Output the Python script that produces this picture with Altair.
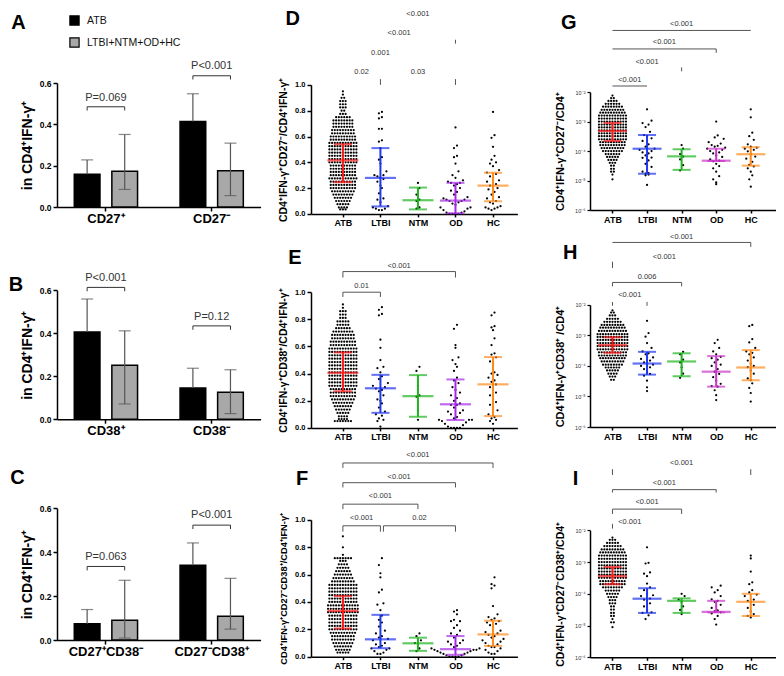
import altair as alt
import pandas as pd
import numpy as np

FONT = "Liberation Sans, Arial, sans-serif"
GROUPS = ["ATB", "LTBI", "NTM", "OD", "HC"]
SERIES = ["ATB", "LTBI+NTM+OD+HC"]

# ---------------- column 1: bar charts (mean, error whisker) ----------------
A_cats = ["CD27⁺", "CD27⁻"]
A_mean = [0.159, 0.173, 0.414, 0.175]
A_lo = [0.159, 0.085, 0.414, 0.055]
A_hi = [0.228, 0.351, 0.548, 0.309]
A_p = ["P=0.069", "P<0.001"]

B_cats = ["CD38⁺", "CD38⁻"]
B_mean = [0.406, 0.251, 0.145, 0.125]
B_lo = [0.406, 0.071, 0.145, 0.026]
B_hi = [0.559, 0.411, 0.237, 0.230]
B_p = ["P<0.001", "P=0.12"]

C_cats = ["CD27⁺CD38⁻", "CD27⁻CD38⁺"]
C_mean = [0.074, 0.090, 0.340, 0.109]
C_lo = [0.074, 0.009, 0.340, 0.050]
C_hi = [0.139, 0.272, 0.442, 0.281]
C_p = ["P=0.063", "P<0.001"]

# bracket / label heights (data units) for column 1
A_brk = [0.485, 0.635]; A_txt = [0.527, 0.680]
B_brk = [0.613, 0.434]; B_txt = [0.656, 0.476]
C_brk = [0.335, 0.523]; C_txt = [0.380, 0.567]

# ---------------- column 2: linear dot plots ----------------
D_ATB_levels = [0.95, 0.925, 0.90, 0.875, 0.85, 0.825, 0.80, 0.775, 0.75, 0.725, 0.70, 0.675, 0.65,
                0.625, 0.60, 0.575, 0.55, 0.525, 0.50, 0.475, 0.45, 0.425, 0.40, 0.375, 0.35, 0.325,
                0.30, 0.275, 0.25, 0.225, 0.20, 0.175, 0.15, 0.125, 0.10, 0.075, 0.05, 0.035]
D_ATB_counts = [1, 1, 2, 3, 3, 3, 2, 3, 6, 8, 8, 8, 9, 9, 10, 10, 11, 11, 11, 11, 11, 11, 11, 10, 10,
                10, 10, 11, 10, 10, 10, 9, 8, 7, 6, 5, 4, 3]
D_LTBI = [0.79, 0.78, 0.75, 0.74, 0.66, 0.66, 0.57, 0.56, 0.51, 0.44, 0.42, 0.39, 0.33, 0.30, 0.30,
          0.29, 0.28, 0.27, 0.25, 0.22, 0.20, 0.16, 0.12, 0.11, 0.09, 0.06, 0.05, 0.04, 0.04, 0.03, 0.03]
D_NTM = [0.24, 0.20, 0.15, 0.11, 0.10, 0.05, 0.04]
D_OD = [0.67, 0.53, 0.51, 0.45, 0.44, 0.39, 0.33, 0.30, 0.28, 0.26, 0.25, 0.24, 0.24, 0.23, 0.22, 0.20,
        0.18, 0.17, 0.15, 0.13, 0.12, 0.11, 0.11, 0.10, 0.10, 0.09, 0.08, 0.07, 0.05, 0.05, 0.04, 0.03,
        0.02, 0.01, 0.01, 0.0, 0.0, 0.0, 0.0]
D_HC = [0.79, 0.61, 0.59, 0.52, 0.45, 0.42, 0.40, 0.39, 0.37, 0.34, 0.32, 0.31, 0.29, 0.28, 0.26, 0.25,
        0.23, 0.22, 0.21, 0.20, 0.19, 0.17, 0.15, 0.13, 0.12, 0.10, 0.09, 0.08, 0.06, 0.05, 0.05, 0.04,
        0.04, 0.03]
D_med = [0.415, 0.279, 0.106, 0.103, 0.219]
D_q1 = [0.246, 0.058, 0.035, 0.005, 0.098]
D_q3 = [0.540, 0.510, 0.204, 0.241, 0.319]

E_ATB_levels = [0.91, 0.885, 0.86, 0.835, 0.81, 0.785, 0.76, 0.735, 0.71, 0.685, 0.66, 0.635, 0.61,
                0.585, 0.56, 0.535, 0.51, 0.485, 0.46, 0.435, 0.41, 0.385, 0.36, 0.335, 0.31, 0.285,
                0.26, 0.235, 0.21, 0.185, 0.16, 0.135, 0.11, 0.085, 0.065, 0.05]
E_ATB_counts = [1, 1, 3, 3, 3, 5, 5, 6, 8, 9, 9, 10, 10, 11, 11, 11, 11, 11, 11, 11, 11, 11, 11, 11,
                11, 10, 10, 10, 9, 8, 7, 6, 5, 4, 4, 7]
E_LTBI = [0.89, 0.87, 0.84, 0.83, 0.65, 0.59, 0.50, 0.45, 0.44, 0.41, 0.38, 0.36, 0.33, 0.31, 0.30,
          0.29, 0.28, 0.27, 0.24, 0.21, 0.20, 0.18, 0.15, 0.12, 0.10, 0.09, 0.07, 0.06, 0.05, 0.01]
E_NTM = [0.45, 0.42, 0.31, 0.24, 0.23, 0.13, 0.06]
E_OD = [0.76, 0.73, 0.61, 0.59, 0.52, 0.50, 0.47, 0.45, 0.42, 0.37, 0.35, 0.33, 0.30, 0.28, 0.26, 0.24,
        0.22, 0.20, 0.18, 0.17, 0.17, 0.15, 0.13, 0.12, 0.11, 0.10, 0.08, 0.07, 0.06, 0.06, 0.06, 0.05,
        0.04, 0.03, 0.02, 0.01, 0.0, 0.0, 0.0, 0.0]
E_HC = [0.85, 0.83, 0.75, 0.74, 0.72, 0.66, 0.61, 0.55, 0.54, 0.52, 0.49, 0.47, 0.41, 0.40, 0.39, 0.37,
        0.35, 0.34, 0.32, 0.30, 0.28, 0.26, 0.24, 0.21, 0.19, 0.17, 0.15, 0.13, 0.10, 0.08, 0.07, 0.06,
        0.05, 0.03]
E_med = [0.406, 0.292, 0.234, 0.174, 0.321]
E_q1 = [0.270, 0.111, 0.082, 0.058, 0.087]
E_q3 = [0.556, 0.391, 0.389, 0.357, 0.522]

F_ATB_levels = [0.88, 0.80, 0.745, 0.72, 0.70, 0.675, 0.65, 0.625, 0.60, 0.575, 0.55, 0.525, 0.50,
                0.475, 0.45, 0.425, 0.40, 0.375, 0.35, 0.325, 0.30, 0.275, 0.25, 0.225, 0.20, 0.175,
                0.15, 0.125, 0.10, 0.075, 0.05, 0.03]
F_ATB_counts = [1, 1, 1, 7, 3, 4, 5, 6, 7, 8, 9, 11, 11, 11, 11, 11, 11, 12, 12, 12, 11, 11, 11, 11,
                11, 10, 9, 9, 8, 7, 6, 5]
F_LTBI = [0.72, 0.67, 0.61, 0.58, 0.49, 0.47, 0.39, 0.38, 0.34, 0.30, 0.27, 0.25, 0.22, 0.19, 0.17,
          0.15, 0.14, 0.13, 0.12, 0.10, 0.09, 0.08, 0.07, 0.06, 0.06, 0.05, 0.04, 0.03, 0.02, 0.02]
F_NTM = [0.17, 0.15, 0.12, 0.10, 0.09, 0.06, 0.04]
F_OD = [0.34, 0.33, 0.31, 0.27, 0.26, 0.26, 0.23, 0.21, 0.19, 0.17, 0.16, 0.14, 0.12, 0.11, 0.10, 0.09,
        0.08, 0.07, 0.06, 0.06, 0.05, 0.05, 0.05, 0.04, 0.04, 0.03, 0.03, 0.02, 0.02, 0.01, 0.01, 0.0,
        0.0, 0.0, 0.0]
F_HC = [0.58, 0.53, 0.52, 0.50, 0.37, 0.31, 0.29, 0.28, 0.27, 0.26, 0.25, 0.24, 0.23, 0.21, 0.19, 0.18,
        0.17, 0.16, 0.15, 0.14, 0.13, 0.12, 0.11, 0.10, 0.09, 0.08, 0.07, 0.07, 0.06, 0.05, 0.04, 0.03,
        0.02, 0.02]
F_med = [0.335, 0.127, 0.098, 0.055, 0.163]
F_q1 = [0.206, 0.062, 0.043, 0.014, 0.079]
F_q3 = [0.443, 0.306, 0.139, 0.151, 0.263]

# ---------------- column 3: log dot plots ----------------
G_ATB_levels = [7.6e-3, 6.3e-3, 5.0e-3, 4.0e-3, 3.2e-3, 2.5e-3, 2.0e-3, 1.6e-3, 1.26e-3, 1.0e-3,
                7.9e-4, 6.3e-4, 5.0e-4, 4.0e-4, 3.2e-4, 2.5e-4, 2.0e-4, 1.6e-4, 1.26e-4, 1.0e-4,
                7.9e-5, 6.3e-5, 5.0e-5, 4.0e-5, 3.2e-5, 2.5e-5, 2.0e-5, 1.6e-5, 1.1e-5]
G_ATB_counts = [1, 2, 4, 6, 8, 9, 10, 11, 11, 11, 11, 11, 11, 11, 11, 11, 10, 10, 9, 8, 6, 5, 4, 3,
                2, 2, 2, 1, 1]
G_LTBI = [2.6e-3, 1.07e-3, 8.9e-4, 7.9e-4, 6.5e-4, 4.5e-4, 3.5e-4, 3.2e-4, 2.7e-4, 2.2e-4, 1.7e-4,
          1.4e-4, 1.2e-4, 1.1e-4, 1.0e-4, 9.0e-5, 8.3e-5, 7.1e-5, 6.0e-5, 5.9e-5, 4.8e-5, 3.7e-5,
          2.9e-5, 2.0e-5, 1.8e-5, 1.7e-5, 1.6e-5, 1.5e-5, 7.1e-6]
G_NTM = [1.6e-4, 1.2e-4, 7.9e-5, 6.5e-5, 5.2e-5, 3.3e-5, 2.2e-5]
G_OD = [1.0e-3, 3.4e-4, 2.9e-4, 2.6e-4, 2.0e-4, 1.8e-4, 1.6e-4, 1.5e-4, 1.4e-4, 1.3e-4, 1.2e-4,
        1.1e-4, 1.0e-4, 9.0e-5, 8.3e-5, 7.1e-5, 6.3e-5, 5.2e-5, 4.7e-5, 4.5e-5, 3.7e-5, 3.1e-5,
        2.6e-5, 2.0e-5, 1.4e-5, 1.1e-5, 8.6e-6, 7.5e-6]
G_HC = [2.6e-3, 1.4e-3, 4.2e-4, 3.2e-4, 2.4e-4, 1.7e-4, 1.4e-4, 1.3e-4, 1.2e-4, 1.1e-4, 9.8e-5,
        7.9e-5, 6.5e-5, 5.5e-5, 4.3e-5, 3.4e-5, 3.0e-5, 2.6e-5, 2.0e-5, 1.5e-5, 1.1e-5, 6.2e-6]
G_med = [4.8e-4, 1.2e-4, 6.6e-5, 4.7e-5, 7.8e-5]
G_q1 = [2.2e-4, 1.7e-5, 2.3e-5, 4.6e-5, 3.2e-5]
G_q3 = [9.0e-4, 3.5e-4, 1.15e-4, 1.2e-4, 1.35e-4]

H_ATB_levels = [6.6e-3, 5.6e-3, 4.5e-3, 3.5e-3, 2.8e-3, 2.2e-3, 1.8e-3, 1.4e-3, 1.1e-3, 8.9e-4,
                7.1e-4, 5.6e-4, 4.5e-4, 3.5e-4, 2.8e-4, 2.2e-4, 1.8e-4, 1.4e-4, 1.1e-4, 8.9e-5,
                7.1e-5, 5.6e-5, 4.5e-5, 3.5e-5]
H_ATB_counts = [1, 2, 3, 5, 7, 9, 10, 11, 12, 12, 12, 12, 12, 12, 11, 11, 10, 9, 8, 6, 5, 4, 3, 2]
H_LTBI = [3.0e-3, 1.2e-3, 9.1e-4, 5.6e-4, 3.9e-4, 3.0e-4, 2.6e-4, 2.4e-4, 1.9e-4, 1.7e-4, 1.5e-4,
          1.3e-4, 1.2e-4, 1.1e-4, 1.0e-4, 9.0e-5, 7.9e-5, 6.2e-5, 5.5e-5, 4.8e-5, 3.3e-5, 2.0e-5,
          1.5e-5]
H_NTM = [2.9e-4, 2.4e-4, 1.6e-4, 1.3e-4, 9.0e-5, 5.6e-5, 4.1e-5]
H_OD = [7.2e-4, 5.6e-4, 3.9e-4, 3.0e-4, 2.4e-4, 2.0e-4, 1.8e-4, 1.6e-4, 1.3e-4, 1.1e-4, 1.0e-4,
        7.9e-5, 6.5e-5, 5.5e-5, 4.3e-5, 3.3e-5, 2.6e-5, 2.2e-5, 2.1e-5, 1.6e-5, 1.1e-5, 7.6e-6]
H_HC = [2.2e-3, 2.0e-3, 7.6e-4, 5.9e-4, 3.9e-4, 3.0e-4, 2.7e-4, 2.4e-4, 1.9e-4, 1.5e-4, 1.2e-4,
        1.0e-4, 9.1e-5, 7.1e-5, 5.6e-5, 3.9e-5, 3.4e-5, 2.7e-5, 1.9e-5, 1.3e-5, 6.8e-6]
H_med = [4.8e-4, 1.2e-4, 1.4e-4, 6.5e-5, 8.9e-5]
H_q1 = [2.7e-4, 5.2e-5, 4.6e-5, 2.1e-5, 3.4e-5]
H_q3 = [8.7e-4, 2.9e-4, 2.6e-4, 2.1e-4, 3.3e-4]

I_ATB_levels = [5.9e-3, 5.0e-3, 4.0e-3, 3.2e-3, 2.5e-3, 2.0e-3, 1.6e-3, 1.26e-3, 1.0e-3, 7.9e-4,
                6.3e-4, 5.0e-4, 4.0e-4, 3.2e-4, 2.5e-4, 2.0e-4, 1.6e-4, 1.26e-4, 1.0e-4, 7.9e-5,
                6.3e-5, 5.0e-5, 4.0e-5, 3.2e-5, 2.5e-5, 2.0e-5, 1.6e-5, 1.26e-5, 8.9e-6]
I_ATB_counts = [1, 3, 5, 7, 9, 10, 11, 11, 11, 11, 11, 11, 11, 11, 10, 10, 8, 6, 5, 4, 3, 3, 2, 2,
                2, 2, 1, 2, 1]
I_LTBI = [2.9e-3, 9.5e-4, 9.0e-4, 4.7e-4, 4.3e-4, 3.6e-4, 2.1e-4, 1.6e-4, 1.3e-4, 1.0e-4, 9.0e-5,
          8.5e-5, 7.1e-5, 6.5e-5, 6.0e-5, 5.0e-5, 4.0e-5, 3.1e-5, 2.6e-5, 2.5e-5, 2.1e-5, 1.6e-5]
I_NTM = [1.0e-4, 8.5e-5, 6.6e-5, 5.6e-5, 4.0e-5, 3.1e-5, 2.3e-5]
I_OD = [1.8e-4, 1.6e-4, 1.3e-4, 1.1e-4, 8.5e-5, 6.7e-5, 6.0e-5, 5.6e-5, 4.5e-5, 3.6e-5, 3.0e-5,
        2.8e-5, 2.6e-5, 2.4e-5, 2.0e-5, 1.6e-5, 1.07e-5]
I_HC = [1.6e-3, 1.3e-3, 5.0e-4, 2.3e-4, 2.0e-4, 1.3e-4, 1.1e-4, 9.5e-5, 8.5e-5, 6.6e-5, 6.0e-5,
        5.6e-5, 4.5e-5, 3.6e-5, 2.8e-5, 2.3e-5, 2.0e-5, 1.8e-5]
I_med = [3.6e-4, 7.0e-5, 6.0e-5, 2.7e-5, 5.6e-5]
I_q1 = [2.0e-4, 2.5e-5, 2.5e-5, 2.6e-5, 2.0e-5]
I_q3 = [7.0e-4, 1.5e-4, 7.2e-5, 6.0e-5, 1.0e-4]

# significance annotations (x in group index, y in data units; log panels: log10 units)
D_lines = []
D_ticks = [(1, 1.0, 1.045), (3, 1.0, 1.045), (3, 1.32, 1.35)]
D_texts = [(0.5, 1.098, "0.02"), (2.0, 1.098, "0.03"), (1.0, 1.25, "0.001"),
           (1.5, 1.40, "<0.001"), (2.0, 1.552, "<0.001")]
E_lines = [(0, 3, 1.152), (0, 1, 1.0)]
E_ticks = [(0, 1.108, 1.152), (3, 1.108, 1.152), (0, 0.965, 1.0), (1, 0.965, 1.0)]
E_texts = [(1.5, 1.195, "<0.001"), (0.5, 1.043, "0.01")]
F_lines = [(0, 4, 1.416), (0, 3, 1.272), (0, 2, 1.115), (0, 1, 0.957), (1.08, 3, 0.957)]
F_ticks = [(0, 1.38, 1.416), (4, 1.38, 1.416), (0, 1.237, 1.272), (3, 1.237, 1.272),
           (0, 1.079, 1.115), (2, 1.079, 1.115), (0, 0.914, 0.957), (1, 0.914, 0.957),
           (1.08, 0.914, 0.957), (3, 0.914, 0.957)]
F_texts = [(2.0, 1.473, "<0.001"), (1.5, 1.315, "<0.001"), (1.0, 1.172, "<0.001"),
           (0.5, 1.014, "<0.001"), (2.04, 1.014, "0.02")]
G_lines = [(0, 4, 0.092), (0, 3, -0.536), (0, 1, -1.793)]
G_ticks = [(3, -0.668, -0.536), (2, -1.295, -1.163)]
G_texts = [(2.0, 0.322, "<0.001"), (1.5, -0.305, "<0.001"), (1.0, -0.966, "<0.001"),
           (0.5, -1.593, "<0.001")]
H_lines = [(0, 4, 0.046), (0, 2, -1.265)]
H_ticks = [(4, -0.10, 0.046), (0, -0.793, -0.584), (0, -1.393, -1.265), (2, -1.393, -1.265),
           (0, -2.03, -1.904), (1, -2.03, -1.904)]
H_texts = [(2.0, 0.238, "<0.001"), (1.5, -0.433, "<0.001"), (1.0, -1.072, "0.006"),
           (0.5, -1.68, "<0.001")]
I_lines = [(0, 3, -0.719), (0, 2, -1.333)]
I_ticks = [(0, -0.258, -0.075), (4, -0.258, -0.075), (0, -0.81, -0.719), (3, -0.81, -0.719),
           (0, -1.487, -1.333), (2, -1.487, -1.333), (0, -1.947, -1.795)]
I_texts = [(2.0, 0.11, "<0.001"), (1.5, -0.504, "<0.001"), (1.0, -1.118, "<0.001"),
           (0.5, -1.733, "<0.001")]

COL_LIN = ["#ff1a1a", "#1f35f0", "#1fb31f", "#a52ae8", "#ff8a1a"]
COL_LOG = ["#ff1a1a", "#1f35f0", "#1fb31f", "#cc33cc", "#ff8a1a"]

LOG_EXPR = ("datum.value > 0.005 ? '10⁻²' : datum.value > 0.0005 ? '10⁻³' : "
            "datum.value > 0.00005 ? '10⁻⁴' : datum.value > 0.000005 ? '10⁻⁵' : '10⁻⁶'")
GROUP_EXPR = "[" + ",".join("'%s'" % g for g in GROUPS) + "][round(datum.value)]"


def letter_layer(letter, dx, dy):
    return alt.Chart(pd.DataFrame({"t": [letter]})).mark_text(
        fontSize=20, fontWeight="bold", font=FONT, align="center", baseline="middle", color="black"
    ).encode(text="t:N", x=alt.value(dx), y=alt.value(dy))


def bar_panel(letter, lxy, cats, mean, lo, hi, brk, txt, ptxt, pw, vw, ph, off, legend):
    vh = off + ph
    recs = []
    for gi, c in enumerate(cats):
        for si, s in enumerate(SERIES):
            k = gi * 2 + si
            recs.append({"cat": c, "ser": s, "y": mean[k], "lo": lo[k], "hi": hi[k]})
    df = pd.DataFrame(recs)
    X = alt.X("cat:N", sort=cats, title=None,
              scale=alt.Scale(range=[0, pw], paddingInner=0.2, paddingOuter=0.0625),
              axis=alt.Axis(labelAngle=0, labelFontSize=13, labelFontWeight="bold", labelColor="black",
                            labelFont=FONT, tickSize=4, tickColor="black", tickWidth=1.5,
                            domainColor="black", domainWidth=1.5, labelPadding=1))
    XO = alt.XOffset("ser:N", sort=SERIES, scale=alt.Scale(paddingInner=0.316, paddingOuter=0.284))

    def Y(f):
        return alt.Y(f, scale=alt.Scale(domain=[0, 0.6], range=[vh, off], nice=False),
                     axis=alt.Axis(values=[0, 0.2, 0.4, 0.6], format=".1f", labelFontSize=8.5,
                                   labelFontWeight="bold", labelColor="black", labelFont=FONT,
                                   tickSize=4, tickColor="black", tickWidth=1.5, domainColor="black",
                                   domainWidth=1.5, labelPadding=2, grid=False,
                                   title="in CD4⁺IFN-γ⁺", titleFontSize=14, titleFont=FONT,
                                   titleFontWeight="bold", titleColor="black", titlePadding=5))
    if legend:
        leg = alt.Legend(orient="none", legendX=12, legendY=off - 68, title=None, symbolType="square",
                         symbolSize=85, symbolStrokeColor="black", symbolStrokeWidth=1.2,
                         labelFontSize=10.5, labelFont=FONT, labelColor="#111", rowPadding=7,
                         padding=0, labelOffset=7)
    else:
        leg = None
    col = alt.Color("ser:N", sort=SERIES,
                    scale=alt.Scale(domain=SERIES, range=["#000000", "#a8a8a8"]), legend=leg)
    bars = alt.Chart(df).mark_bar(stroke="black", strokeWidth=1.5).encode(
        x=X, xOffset=XO, y=Y("y:Q"), color=col)
    err = alt.Chart(df).mark_rule(color="#555", strokeWidth=1.2).encode(
        x=X, xOffset=XO, y=Y("lo:Q"), y2="hi:Q")
    cap_hi = alt.Chart(df).mark_tick(orient="horizontal", size=12, thickness=1.2, color="#555").encode(
        x=X, xOffset=XO, y=Y("hi:Q"))
    cap_lo = alt.Chart(df[df["lo"] < df["y"]]).mark_tick(
        orient="horizontal", size=12, thickness=1.2, color="#555").encode(
        x=X, xOffset=XO, y=Y("lo:Q"))
    brecs = []
    for gi, c in enumerate(cats):
        b = brk[gi]
        d = 0.018
        pts = [(SERIES[0], b - d), (SERIES[0], b), (SERIES[1], b), (SERIES[1], b - d)]
        for o, (s, yy) in enumerate(pts):
            brecs.append({"cat": c, "ser": s, "y": yy, "o": o, "b": gi})
    bdf = pd.DataFrame(brecs)
    brackets = alt.Chart(bdf).mark_line(color="#333", strokeWidth=1).encode(
        x=X, xOffset=XO, y=Y("y:Q"), order="o:Q", detail="b:N")
    tdf = pd.DataFrame({"cat": cats, "y": txt, "t": ptxt})
    texts = alt.Chart(tdf).mark_text(fontSize=11, font=FONT, color="#333", baseline="middle").encode(
        x=X, y=Y("y:Q"), text="t:N")
    return alt.layer(bars, err, cap_hi, cap_lo, brackets, texts,
                     letter_layer(letter, lxy[0], lxy[1] + off)).properties(width=vw, height=vh)


def make_points(levels, counts, others, ypix, step_px):
    DOT = 2.7
    BIN = 9.0
    recs = []
    for lv, n in zip(levels, counts):
        for k in range(n):
            recs.append({"x": (k - (n - 1) / 2) * DOT / step_px, "y": lv})
    for gi, vals in enumerate(others, start=1):
        bins = {}
        for v in sorted(vals):
            bins.setdefault(int(np.floor(ypix(v) / BIN)), []).append(v)
        for vs in bins.values():
            n = len(vs)
            slots = sorted([k - (n - 1) / 2 for k in range(n)], key=lambda s: (abs(s), s))
            for v, s in zip(vs, slots):
                recs.append({"x": gi + s * 3.0 / step_px, "y": v})
    return pd.DataFrame(recs)


def dot_panel(letter, lxy, levels, counts, others, med, q1, q3, lines, ticks, texts,
              pw, vw, ph, off, log, ytitle, tsize, xdom, colors, medw):
    vh = off + ph
    step_px = pw / (xdom[1] - xdom[0])
    if log:
        ysc = alt.Scale(type="log", domain=[1e-6, 1e-2], range=[vh, off], nice=False)
        yax = alt.Axis(values=[1e-6, 1e-5, 1e-4, 1e-3, 1e-2], labelExpr=LOG_EXPR, labelFontSize=5.5,
                       labelColor="#333", labelFont=FONT, tickSize=3, tickColor="black", tickWidth=1.2,
                       domainColor="black", domainWidth=1.5, labelPadding=2, grid=False,
                       title=ytitle, titleFontSize=tsize, titleFont=FONT, titleFontWeight="bold",
                       titleColor="black", titlePadding=9)
        conv = lambda e: 10 ** e
        ypix = lambda v: (np.log10(v) + 6) / 4 * ph
    else:
        ysc = alt.Scale(domain=[0, 1], range=[vh, off], nice=False)
        yax = alt.Axis(values=[0, 0.2, 0.4, 0.6, 0.8, 1.0], format=".1f", labelFontSize=7.5,
                       labelFontWeight="bold", labelColor="black", labelFont=FONT, tickSize=4,
                       tickColor="black", tickWidth=1.5, domainColor="black", domainWidth=1.5,
                       labelPadding=2, grid=False, title=ytitle, titleFontSize=tsize, titleFont=FONT,
                       titleFontWeight="bold", titleColor="black", titlePadding=6)
        conv = lambda v: v
        ypix = lambda v: v * ph
    X = alt.X("x:Q", scale=alt.Scale(domain=xdom, range=[0, pw], nice=False, zero=False),
              axis=alt.Axis(values=[0, 1, 2, 3, 4], labelExpr=GROUP_EXPR, labelFontSize=9,
                            labelFontWeight="bold", labelColor="black", labelFont=FONT, tickSize=3,
                            tickColor="black", tickWidth=1.5, domainColor="black", domainWidth=1.5,
                            labelPadding=2, grid=False, labelFlush=False), title=None)
    Y = alt.Y("y:Q", scale=ysc, axis=yax)
    pts = make_points(levels, counts, others, ypix, step_px)
    layers = [alt.Chart(pts).mark_circle(size=5, color="black", opacity=1).encode(x=X, y=Y)]
    C = alt.Color("c:N", scale=None)
    iqr = pd.DataFrame({"x": list(range(5)), "y": q1, "y2": q3, "c": colors})
    layers.append(alt.Chart(iqr).mark_rule(strokeWidth=2).encode(x=X, y=Y, y2="y2:Q", color=C))
    caps = pd.DataFrame({"x": list(range(5)) * 2, "y": q1 + q3, "c": colors * 2})
    layers.append(alt.Chart(caps).mark_tick(orient="horizontal", size=18, thickness=2).encode(
        x=X, y=Y, color=C))
    meds = pd.DataFrame({"x": list(range(5)), "y": med, "c": colors})
    layers.append(alt.Chart(meds).mark_tick(orient="horizontal", size=medw, thickness=2.2).encode(
        x=X, y=Y, color=C))
    if lines:
        ldf = pd.DataFrame({"x": [l[0] for l in lines], "x2": [l[1] for l in lines],
                            "y": [conv(l[2]) for l in lines]})
        layers.append(alt.Chart(ldf).mark_rule(color="#555", strokeWidth=1).encode(
            x=X, x2="x2:Q", y=Y))
    if ticks:
        tdf = pd.DataFrame({"x": [t[0] for t in ticks], "y": [conv(t[1]) for t in ticks],
                            "y2": [conv(t[2]) for t in ticks]})
        layers.append(alt.Chart(tdf).mark_rule(color="#555", strokeWidth=1).encode(
            x=X, y=Y, y2="y2:Q"))
    if texts:
        xdf = pd.DataFrame({"x": [t[0] for t in texts], "y": [conv(t[1]) for t in texts],
                            "t": [t[2] for t in texts]})
        layers.append(alt.Chart(xdf).mark_text(fontSize=7.5, font=FONT, color="#333",
                                               baseline="middle").encode(x=X, y=Y, text="t:N"))
    layers.append(letter_layer(letter, lxy[0], lxy[1] + off))
    return alt.layer(*layers).properties(width=vw, height=vh)


# plot widths, and cell widths (plot + gap to next column)
W1, W2, W3 = 203.6, 206.4, 186
V1, V2, V3 = 254, 278.6, 186
XD2 = [-0.85, 4.65]
XD3 = [-0.65, 4.73]

pA = bar_panel("A", (-38.5, -60), A_cats, A_mean, A_lo, A_hi, A_brk, A_txt, A_p, W1, V1, 124, 0, True)
pB = bar_panel("B", (-41, -5), B_cats, B_mean, B_lo, B_hi, B_brk, B_txt, B_p, W1, V1, 129, 76.2, False)
pC = bar_panel("C", (-39.5, -30), C_cats, C_mean, C_lo, C_hi, C_brk, C_txt, C_p, W1, V1, 131.9, 80.2,
               False)

pD = dot_panel("D", (-18.3, -66), D_ATB_levels, D_ATB_counts, [D_LTBI, D_NTM, D_OD, D_HC],
               D_med, D_q1, D_q3, D_lines, D_ticks, D_texts, W2, V2, 129, 1.9, False,
               "CD4⁺IFN-γ⁺CD27⁻/CD4⁺IFN-γ⁺", 10.5, XD2, COL_LIN, 31)
pE = dot_panel("E", (-16, -34), E_ATB_levels, E_ATB_counts, [E_LTBI, E_NTM, E_OD, E_HC],
               E_med, E_q1, E_q3, E_lines, E_ticks, E_texts, W2, V2, 135.7, 78.2, False,
               "CD4⁺IFN-γ⁺CD38⁺/CD4⁺IFN-γ⁺", 10.5, XD2, COL_LIN, 31)
pF = dot_panel("F", (-9, -41), F_ATB_levels, F_ATB_counts, [F_LTBI, F_NTM, F_OD, F_HC],
               F_med, F_q1, F_q3, F_lines, F_ticks, F_texts, W2, V2, 136.8, 91.9, False,
               "CD4⁺IFN-γ⁺CD27⁻CD38⁺/CD4⁺IFN-γ⁺", 9.3, XD2, COL_LIN, 31)

pG = dot_panel("G", (-21.3, -69), G_ATB_levels, G_ATB_counts, [G_LTBI, G_NTM, G_OD, G_HC],
               G_med, G_q1, G_q3, G_lines, G_ticks, G_texts, W3, V3, 117.9, 9.1, True,
               "CD4⁺IFN-γ⁺CD27⁻/CD4⁺", 11, XD3, COL_LOG, 29)
pH = dot_panel("H", (-19.8, -52), H_ATB_levels, H_ATB_counts, [H_LTBI, H_NTM, H_OD, H_HC],
               H_med, H_q1, H_q3, H_lines, H_ticks, H_texts, W3, V3, 122.1, 90.9, True,
               "CD4⁺IFN-γ⁺CD38⁺ /CD4⁺", 11, XD3, COL_LOG, 29)
pI = dot_panel("I", (-14.4, -51.5), I_ATB_levels, I_ATB_counts, [I_LTBI, I_NTM, I_OD, I_HC],
               I_med, I_q1, I_q3, I_lines, I_ticks, I_texts, W3, V3, 127, 102.3, True,
               "CD4⁺IFN-γ⁺CD27⁻CD38⁺/CD4⁺", 10.5, XD3, COL_LOG, 29)

chart = alt.concat(pA, pD, pG, pB, pE, pH, pC, pF, pI, columns=3, spacing=0,
                   bounds="flush", align="each").resolve_scale(
    color="independent").properties(padding=0).configure(font=FONT).configure_view(stroke=None)

chart.save("out.html", embed_options={"renderer": "svg", "actions": False})
